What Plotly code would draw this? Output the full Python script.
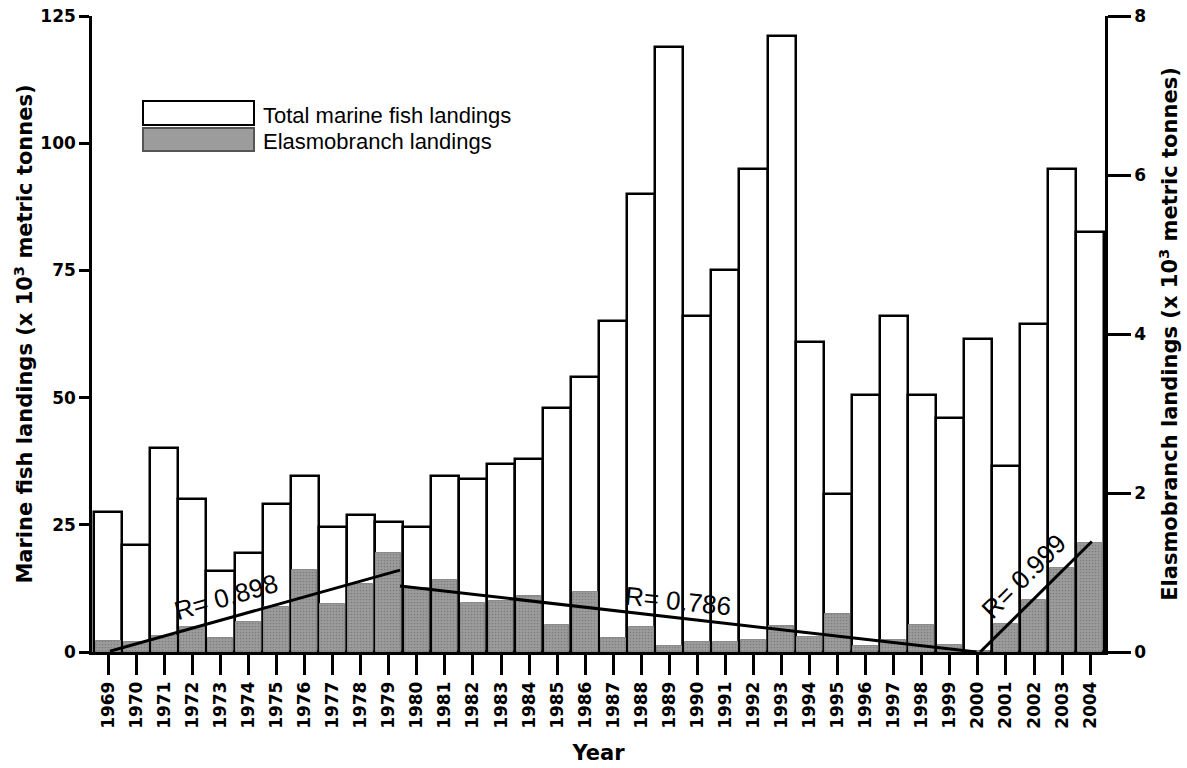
import plotly.graph_objects as go

years = list(range(1969, 2005))
year_labels = [str(y) for y in years]

total_landings = [27.5, 21, 40, 30, 16, 19.5, 29, 34.5, 24.5, 27, 25.5, 24.5, 34.5, 34,
                  37, 38, 48, 54, 65, 90, 119, 66, 75, 95, 121, 61, 31, 50.5, 66, 50.5,
                  46, 61.5, 36.5, 64.5, 95, 82.5]
elasmo_landings = [0.14, 0.12, 0.2, 0.32, 0.18, 0.38, 0.56, 1.03, 0.6, 0.85, 1.25, 0.81,
                   0.9, 0.62, 0.64, 0.71, 0.34, 0.76, 0.18, 0.32, 0.08, 0.13, 0.12, 0.15,
                   0.33, 0.19, 0.48, 0.08, 0.15, 0.34, 0.09, 0.0, 0.35, 0.66, 1.06, 1.37]

reg1_x = [1969.06, 1979.4]
reg1_y = [0.01, 1.03]
reg2_x = [1979.4, 1999.95]
reg2_y = [0.83, 0.0]
reg3_x = [2000.08, 2004.06]
reg3_y = [0.0, 1.39]

r_labels = ["R= 0.898", "R= 0.786", "R= 0.999"]
r_x = [1973.2, 1989.3, 2001.65]
r_y = [0.69, 0.64, 0.95]
r_angle = [-16, 6, -45]

left_ticks = [0, 25, 50, 75, 100, 125]
right_ticks = [0, 2, 4, 6, 8]

BOLD = "DejaVu Sans"
GRAY = "#9c9c9c"

fig = go.Figure()
fig.add_trace(go.Bar(x=years, y=total_landings, width=1.0, yaxis="y",
                     marker=dict(color="white", line=dict(color="black", width=2.5)),
                     name="Total marine fish landings", showlegend=False))
fig.add_trace(go.Bar(x=years, y=elasmo_landings, width=0.88, yaxis="y2",
                     marker=dict(color=GRAY, line=dict(color="#8a8a8a", width=1),
                                 pattern=dict(shape=".", fgcolor="#5e5e5e", bgcolor=GRAY,
                                              size=3, solidity=0.25)),
                     name="Elasmobranch landings", showlegend=False))
for rx, ry in [(reg1_x, reg1_y), (reg2_x, reg2_y), (reg3_x, reg3_y)]:
    fig.add_trace(go.Scatter(x=rx, y=ry, yaxis="y2", mode="lines",
                             line=dict(color="black", width=3), showlegend=False))

for t, xx, yy, a in zip(r_labels, r_x, r_y, r_angle):
    fig.add_annotation(x=xx, y=yy, xref="x", yref="y2", text=t, textangle=a,
                       showarrow=False, font=dict(family="Liberation Sans", size=26, color="black"))

# legend drawn manually
W, H, L, T = 1187, 768, 92, 16
PW, PH = 1013, 636
def px(xp):
    return (xp - L) / PW
def py(yp):
    return (T + PH - yp) / PH

fig.add_shape(type="rect", xref="paper", yref="paper", x0=px(143), x1=px(254), y0=py(125), y1=py(101),
              line=dict(color="black", width=2), fillcolor="white")
fig.add_shape(type="rect", xref="paper", yref="paper", x0=px(143), x1=px(254), y0=py(151), y1=py(128),
              line=dict(color="#555555", width=2), fillcolor=GRAY)
fig.add_annotation(xref="paper", yref="paper", x=px(261), y=py(116), xanchor="left", yanchor="middle",
                   text="Total marine fish landings", showarrow=False,
                   font=dict(family="Liberation Sans", size=22, color="black"))
fig.add_annotation(xref="paper", yref="paper", x=px(261), y=py(142), xanchor="left", yanchor="middle",
                   text="Elasmobranch landings", showarrow=False,
                   font=dict(family="Liberation Sans", size=22, color="black"))

fig.update_layout(
    width=W, height=H,
    margin=dict(l=L, r=W - L - PW, t=T, b=H - T - PH, pad=0, autoexpand=False),
    paper_bgcolor="white", plot_bgcolor="white",
    barmode="overlay", bargap=0,
    xaxis=dict(range=[1968.42, 2004.53], tickvals=years, ticktext=year_labels, tickangle=-90,
               ticks="outside", ticklen=20, tickwidth=2.5, tickcolor="black", automargin=False,
               showline=True, linewidth=2.5, linecolor="black", showgrid=False, zeroline=False,
               tickfont=dict(family=BOLD, size=17, color="black", weight="bold"),
               title=dict(text="<b>Year</b>", font=dict(family=BOLD, size=21, color="black"), standoff=18)),
    yaxis=dict(range=[0, 125], tickvals=left_ticks, ticks="outside", ticklen=10, tickwidth=2.5,
               tickcolor="black", showline=True, linewidth=2.5, linecolor="black", automargin=False,
               showgrid=False, zeroline=False,
               tickfont=dict(family=BOLD, size=17, color="black", weight="bold"),
               title=dict(text="<b>Marine fish landings (x 10<sup>3</sup> metric tonnes)</b>",
                          font=dict(family=BOLD, size=21, color="black"), standoff=2)),
    yaxis2=dict(range=[0, 8], tickvals=right_ticks, overlaying="y", side="right",
                ticks="outside", ticklen=23, tickwidth=2.5, tickcolor="black", automargin=False,
                showline=True, linewidth=2.5, linecolor="black", showgrid=False, zeroline=False,
                tickfont=dict(family=BOLD, size=17, color="black", weight="bold"),
                title=dict(text="<b>Elasmobranch landings (x 10<sup>3</sup> metric tonnes)</b>",
                           font=dict(family=BOLD, size=21, color="black"), standoff=18)),
)

fig.write_html("out.html")
